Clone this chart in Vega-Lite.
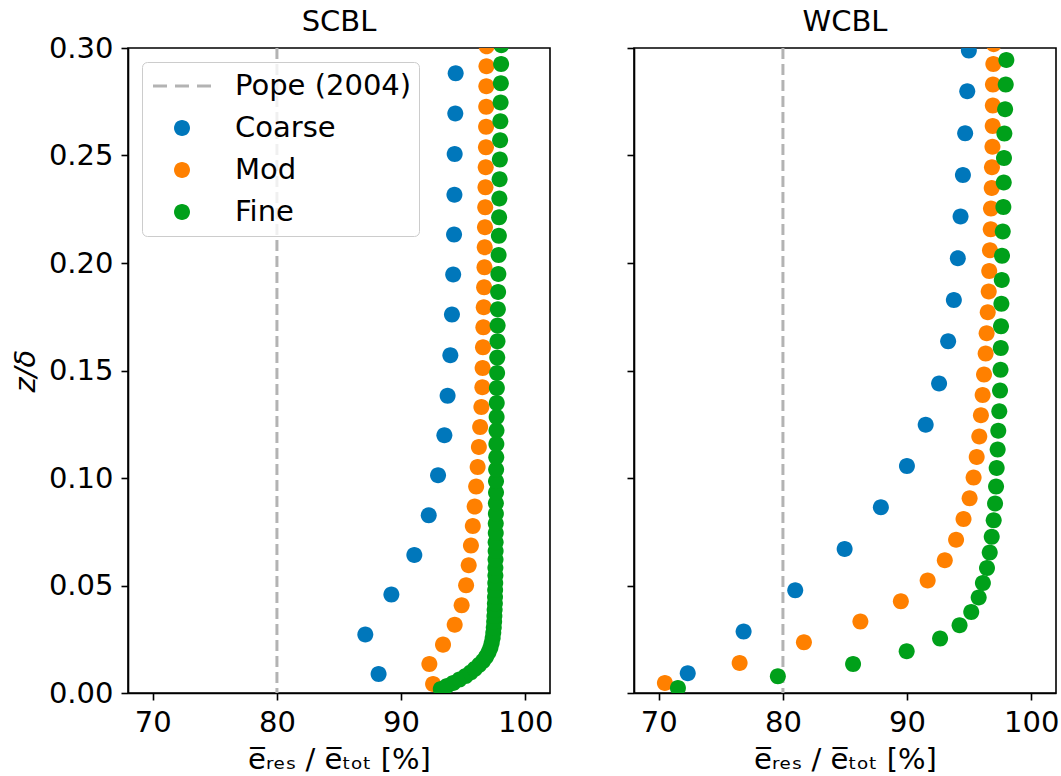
{
  "$schema": "https://vega.github.io/schema/vega-lite/v6.json",
  "padding": {"left": 10, "top": 6, "right": 2, "bottom": 2},
  "background": "white",
  "config": {
    "font": "DejaVu Sans",
    "view": {"stroke": "black", "strokeWidth": 1.6},
    "axis": {"domainColor": "black", "domainWidth": 1.6, "tickColor": "black", "tickWidth": 1.6, "tickSize": 7, "labelFontSize": 29, "labelColor": "black", "titleFontSize": 29, "titleFontWeight": "normal", "titleColor": "black", "grid": false, "labelPadding": 8, "titlePadding": 8},
    "title": {"fontSize": 29, "fontWeight": "normal", "offset": 12, "color": "black"}
  },
  "data": {"values": [
    {"panel": "SCBL", "series": "Pope (2004)", "x": 80},
    {"panel": "WCBL", "series": "Pope (2004)", "x": 80},
    {"panel": "SCBL", "series": "Coarse", "x": 88.19, "y": 0.0088},
    {"panel": "SCBL", "series": "Coarse", "x": 87.12, "y": 0.0272},
    {"panel": "SCBL", "series": "Coarse", "x": 89.22, "y": 0.0458},
    {"panel": "SCBL", "series": "Coarse", "x": 91.07, "y": 0.0642},
    {"panel": "SCBL", "series": "Coarse", "x": 92.23, "y": 0.0827},
    {"panel": "SCBL", "series": "Coarse", "x": 92.98, "y": 0.1013},
    {"panel": "SCBL", "series": "Coarse", "x": 93.49, "y": 0.1199},
    {"panel": "SCBL", "series": "Coarse", "x": 93.75, "y": 0.1383},
    {"panel": "SCBL", "series": "Coarse", "x": 93.97, "y": 0.1571},
    {"panel": "SCBL", "series": "Coarse", "x": 94.10, "y": 0.1760},
    {"panel": "SCBL", "series": "Coarse", "x": 94.20, "y": 0.1946},
    {"panel": "SCBL", "series": "Coarse", "x": 94.27, "y": 0.2132},
    {"panel": "SCBL", "series": "Coarse", "x": 94.30, "y": 0.2318},
    {"panel": "SCBL", "series": "Coarse", "x": 94.32, "y": 0.2507},
    {"panel": "SCBL", "series": "Coarse", "x": 94.37, "y": 0.2695},
    {"panel": "SCBL", "series": "Coarse", "x": 94.40, "y": 0.2882},
    {"panel": "SCBL", "series": "Mod", "x": 92.58, "y": 0.0042},
    {"panel": "SCBL", "series": "Mod", "x": 92.28, "y": 0.0135},
    {"panel": "SCBL", "series": "Mod", "x": 93.38, "y": 0.0225},
    {"panel": "SCBL", "series": "Mod", "x": 94.32, "y": 0.0318},
    {"panel": "SCBL", "series": "Mod", "x": 94.88, "y": 0.0408},
    {"panel": "SCBL", "series": "Mod", "x": 95.24, "y": 0.0501},
    {"panel": "SCBL", "series": "Mod", "x": 95.45, "y": 0.0594},
    {"panel": "SCBL", "series": "Mod", "x": 95.63, "y": 0.0686},
    {"panel": "SCBL", "series": "Mod", "x": 95.78, "y": 0.0777},
    {"panel": "SCBL", "series": "Mod", "x": 95.93, "y": 0.0867},
    {"panel": "SCBL", "series": "Mod", "x": 96.05, "y": 0.0960},
    {"panel": "SCBL", "series": "Mod", "x": 96.17, "y": 0.1051},
    {"panel": "SCBL", "series": "Mod", "x": 96.27, "y": 0.1144},
    {"panel": "SCBL", "series": "Mod", "x": 96.37, "y": 0.1237},
    {"panel": "SCBL", "series": "Mod", "x": 96.47, "y": 0.1330},
    {"panel": "SCBL", "series": "Mod", "x": 96.55, "y": 0.1422},
    {"panel": "SCBL", "series": "Mod", "x": 96.57, "y": 0.1512},
    {"panel": "SCBL", "series": "Mod", "x": 96.60, "y": 0.1608},
    {"panel": "SCBL", "series": "Mod", "x": 96.63, "y": 0.1701},
    {"panel": "SCBL", "series": "Mod", "x": 96.66, "y": 0.1794},
    {"panel": "SCBL", "series": "Mod", "x": 96.69, "y": 0.1887},
    {"panel": "SCBL", "series": "Mod", "x": 96.72, "y": 0.1980},
    {"panel": "SCBL", "series": "Mod", "x": 96.74, "y": 0.2073},
    {"panel": "SCBL", "series": "Mod", "x": 96.76, "y": 0.2166},
    {"panel": "SCBL", "series": "Mod", "x": 96.78, "y": 0.2259},
    {"panel": "SCBL", "series": "Mod", "x": 96.80, "y": 0.2352},
    {"panel": "SCBL", "series": "Mod", "x": 96.82, "y": 0.2445},
    {"panel": "SCBL", "series": "Mod", "x": 96.84, "y": 0.2538},
    {"panel": "SCBL", "series": "Mod", "x": 96.85, "y": 0.2634},
    {"panel": "SCBL", "series": "Mod", "x": 96.86, "y": 0.2727},
    {"panel": "SCBL", "series": "Mod", "x": 96.87, "y": 0.2822},
    {"panel": "SCBL", "series": "Mod", "x": 96.88, "y": 0.2915},
    {"panel": "SCBL", "series": "Mod", "x": 96.89, "y": 0.3008},
    {"panel": "SCBL", "series": "Fine", "x": 93.2, "y": 0.0019},
    {"panel": "SCBL", "series": "Fine", "x": 93.7, "y": 0.0033},
    {"panel": "SCBL", "series": "Fine", "x": 94.2, "y": 0.0047},
    {"panel": "SCBL", "series": "Fine", "x": 94.7, "y": 0.0063},
    {"panel": "SCBL", "series": "Fine", "x": 95.2, "y": 0.0079},
    {"panel": "SCBL", "series": "Fine", "x": 95.6, "y": 0.0095},
    {"panel": "SCBL", "series": "Fine", "x": 95.95, "y": 0.0113},
    {"panel": "SCBL", "series": "Fine", "x": 96.3, "y": 0.0131},
    {"panel": "SCBL", "series": "Fine", "x": 96.6, "y": 0.0149},
    {"panel": "SCBL", "series": "Fine", "x": 96.85, "y": 0.0169},
    {"panel": "SCBL", "series": "Fine", "x": 97.05, "y": 0.0189},
    {"panel": "SCBL", "series": "Fine", "x": 97.2, "y": 0.0211},
    {"panel": "SCBL", "series": "Fine", "x": 97.3, "y": 0.0233},
    {"panel": "SCBL", "series": "Fine", "x": 97.38, "y": 0.0256},
    {"panel": "SCBL", "series": "Fine", "x": 97.43, "y": 0.0280},
    {"panel": "SCBL", "series": "Fine", "x": 97.47, "y": 0.0305},
    {"panel": "SCBL", "series": "Fine", "x": 97.5, "y": 0.0331},
    {"panel": "SCBL", "series": "Fine", "x": 97.52, "y": 0.0358},
    {"panel": "SCBL", "series": "Fine", "x": 97.54, "y": 0.0387},
    {"panel": "SCBL", "series": "Fine", "x": 97.56, "y": 0.0416},
    {"panel": "SCBL", "series": "Fine", "x": 97.57, "y": 0.0447},
    {"panel": "SCBL", "series": "Fine", "x": 97.58, "y": 0.0479},
    {"panel": "SCBL", "series": "Fine", "x": 97.59, "y": 0.0512},
    {"panel": "SCBL", "series": "Fine", "x": 97.6, "y": 0.0547},
    {"panel": "SCBL", "series": "Fine", "x": 97.6, "y": 0.0583},
    {"panel": "SCBL", "series": "Fine", "x": 97.61, "y": 0.0621},
    {"panel": "SCBL", "series": "Fine", "x": 97.62, "y": 0.0660},
    {"panel": "SCBL", "series": "Fine", "x": 97.62, "y": 0.0701},
    {"panel": "SCBL", "series": "Fine", "x": 97.63, "y": 0.0744},
    {"panel": "SCBL", "series": "Fine", "x": 97.63, "y": 0.0788},
    {"panel": "SCBL", "series": "Fine", "x": 97.64, "y": 0.0834},
    {"panel": "SCBL", "series": "Fine", "x": 97.64, "y": 0.0882},
    {"panel": "SCBL", "series": "Fine", "x": 97.65, "y": 0.0933},
    {"panel": "SCBL", "series": "Fine", "x": 97.65, "y": 0.0985},
    {"panel": "SCBL", "series": "Fine", "x": 97.66, "y": 0.1039},
    {"panel": "SCBL", "series": "Fine", "x": 97.67, "y": 0.1096},
    {"panel": "SCBL", "series": "Fine", "x": 97.68, "y": 0.1158},
    {"panel": "SCBL", "series": "Fine", "x": 97.69, "y": 0.1221},
    {"panel": "SCBL", "series": "Fine", "x": 97.7, "y": 0.1284},
    {"panel": "SCBL", "series": "Fine", "x": 97.71, "y": 0.1349},
    {"panel": "SCBL", "series": "Fine", "x": 97.72, "y": 0.1419},
    {"panel": "SCBL", "series": "Fine", "x": 97.74, "y": 0.1488},
    {"panel": "SCBL", "series": "Fine", "x": 97.75, "y": 0.1561},
    {"panel": "SCBL", "series": "Fine", "x": 97.77, "y": 0.1636},
    {"panel": "SCBL", "series": "Fine", "x": 97.78, "y": 0.1709},
    {"panel": "SCBL", "series": "Fine", "x": 97.8, "y": 0.1785},
    {"panel": "SCBL", "series": "Fine", "x": 97.82, "y": 0.1865},
    {"panel": "SCBL", "series": "Fine", "x": 97.84, "y": 0.1949},
    {"panel": "SCBL", "series": "Fine", "x": 97.86, "y": 0.2037},
    {"panel": "SCBL", "series": "Fine", "x": 97.88, "y": 0.2127},
    {"panel": "SCBL", "series": "Fine", "x": 97.9, "y": 0.2213},
    {"panel": "SCBL", "series": "Fine", "x": 97.92, "y": 0.2300},
    {"panel": "SCBL", "series": "Fine", "x": 97.94, "y": 0.2389},
    {"panel": "SCBL", "series": "Fine", "x": 97.96, "y": 0.2481},
    {"panel": "SCBL", "series": "Fine", "x": 97.98, "y": 0.2571},
    {"panel": "SCBL", "series": "Fine", "x": 98.0, "y": 0.2659},
    {"panel": "SCBL", "series": "Fine", "x": 98.02, "y": 0.2747},
    {"panel": "SCBL", "series": "Fine", "x": 98.04, "y": 0.2836},
    {"panel": "SCBL", "series": "Fine", "x": 98.06, "y": 0.2926},
    {"panel": "SCBL", "series": "Fine", "x": 98.08, "y": 0.3013},
    {"panel": "WCBL", "series": "Coarse", "x": 72.33, "y": 0.0092},
    {"panel": "WCBL", "series": "Coarse", "x": 76.83, "y": 0.0286},
    {"panel": "WCBL", "series": "Coarse", "x": 80.99, "y": 0.0478},
    {"panel": "WCBL", "series": "Coarse", "x": 84.97, "y": 0.0670},
    {"panel": "WCBL", "series": "Coarse", "x": 87.89, "y": 0.0864},
    {"panel": "WCBL", "series": "Coarse", "x": 89.99, "y": 0.1056},
    {"panel": "WCBL", "series": "Coarse", "x": 91.50, "y": 0.1248},
    {"panel": "WCBL", "series": "Coarse", "x": 92.58, "y": 0.1440},
    {"panel": "WCBL", "series": "Coarse", "x": 93.31, "y": 0.1636},
    {"panel": "WCBL", "series": "Coarse", "x": 93.77, "y": 0.1828},
    {"panel": "WCBL", "series": "Coarse", "x": 94.09, "y": 0.2022},
    {"panel": "WCBL", "series": "Coarse", "x": 94.31, "y": 0.2216},
    {"panel": "WCBL", "series": "Coarse", "x": 94.50, "y": 0.2409},
    {"panel": "WCBL", "series": "Coarse", "x": 94.68, "y": 0.2603},
    {"panel": "WCBL", "series": "Coarse", "x": 94.85, "y": 0.2799},
    {"panel": "WCBL", "series": "Coarse", "x": 94.98, "y": 0.2988},
    {"panel": "WCBL", "series": "Mod", "x": 70.49, "y": 0.0047},
    {"panel": "WCBL", "series": "Mod", "x": 76.51, "y": 0.0140},
    {"panel": "WCBL", "series": "Mod", "x": 81.69, "y": 0.0236},
    {"panel": "WCBL", "series": "Mod", "x": 86.24, "y": 0.0332},
    {"panel": "WCBL", "series": "Mod", "x": 89.50, "y": 0.0427},
    {"panel": "WCBL", "series": "Mod", "x": 91.66, "y": 0.0523},
    {"panel": "WCBL", "series": "Mod", "x": 93.04, "y": 0.0617},
    {"panel": "WCBL", "series": "Mod", "x": 93.95, "y": 0.0713},
    {"panel": "WCBL", "series": "Mod", "x": 94.55, "y": 0.0809},
    {"panel": "WCBL", "series": "Mod", "x": 95.04, "y": 0.0906},
    {"panel": "WCBL", "series": "Mod", "x": 95.36, "y": 0.1002},
    {"panel": "WCBL", "series": "Mod", "x": 95.61, "y": 0.1098},
    {"panel": "WCBL", "series": "Mod", "x": 95.82, "y": 0.1193},
    {"panel": "WCBL", "series": "Mod", "x": 95.95, "y": 0.1292},
    {"panel": "WCBL", "series": "Mod", "x": 96.09, "y": 0.1386},
    {"panel": "WCBL", "series": "Mod", "x": 96.20, "y": 0.1481},
    {"panel": "WCBL", "series": "Mod", "x": 96.33, "y": 0.1579},
    {"panel": "WCBL", "series": "Mod", "x": 96.41, "y": 0.1673},
    {"panel": "WCBL", "series": "Mod", "x": 96.50, "y": 0.1771},
    {"panel": "WCBL", "series": "Mod", "x": 96.58, "y": 0.1867},
    {"panel": "WCBL", "series": "Mod", "x": 96.62, "y": 0.1963},
    {"panel": "WCBL", "series": "Mod", "x": 96.68, "y": 0.2059},
    {"panel": "WCBL", "series": "Mod", "x": 96.74, "y": 0.2157},
    {"panel": "WCBL", "series": "Mod", "x": 96.76, "y": 0.2253},
    {"panel": "WCBL", "series": "Mod", "x": 96.82, "y": 0.2349},
    {"panel": "WCBL", "series": "Mod", "x": 96.84, "y": 0.2445},
    {"panel": "WCBL", "series": "Mod", "x": 96.88, "y": 0.2541},
    {"panel": "WCBL", "series": "Mod", "x": 96.90, "y": 0.2637},
    {"panel": "WCBL", "series": "Mod", "x": 96.91, "y": 0.2733},
    {"panel": "WCBL", "series": "Mod", "x": 96.92, "y": 0.2830},
    {"panel": "WCBL", "series": "Mod", "x": 96.95, "y": 0.2926},
    {"panel": "WCBL", "series": "Mod", "x": 96.98, "y": 0.3018},
    {"panel": "WCBL", "series": "Fine", "x": 71.54, "y": 0.0023},
    {"panel": "WCBL", "series": "Fine", "x": 79.59, "y": 0.0078},
    {"panel": "WCBL", "series": "Fine", "x": 85.65, "y": 0.0135},
    {"panel": "WCBL", "series": "Fine", "x": 89.97, "y": 0.0194},
    {"panel": "WCBL", "series": "Fine", "x": 92.66, "y": 0.0253},
    {"panel": "WCBL", "series": "Fine", "x": 94.23, "y": 0.0315},
    {"panel": "WCBL", "series": "Fine", "x": 95.17, "y": 0.0377},
    {"panel": "WCBL", "series": "Fine", "x": 95.77, "y": 0.0444},
    {"panel": "WCBL", "series": "Fine", "x": 96.11, "y": 0.0512},
    {"panel": "WCBL", "series": "Fine", "x": 96.44, "y": 0.0581},
    {"panel": "WCBL", "series": "Fine", "x": 96.66, "y": 0.0653},
    {"panel": "WCBL", "series": "Fine", "x": 96.82, "y": 0.0727},
    {"panel": "WCBL", "series": "Fine", "x": 96.98, "y": 0.0803},
    {"panel": "WCBL", "series": "Fine", "x": 97.09, "y": 0.0881},
    {"panel": "WCBL", "series": "Fine", "x": 97.17, "y": 0.0961},
    {"panel": "WCBL", "series": "Fine", "x": 97.22, "y": 0.1047},
    {"panel": "WCBL", "series": "Fine", "x": 97.30, "y": 0.1132},
    {"panel": "WCBL", "series": "Fine", "x": 97.35, "y": 0.1220},
    {"panel": "WCBL", "series": "Fine", "x": 97.43, "y": 0.1310},
    {"panel": "WCBL", "series": "Fine", "x": 97.49, "y": 0.1407},
    {"panel": "WCBL", "series": "Fine", "x": 97.53, "y": 0.1504},
    {"panel": "WCBL", "series": "Fine", "x": 97.55, "y": 0.1605},
    {"panel": "WCBL", "series": "Fine", "x": 97.57, "y": 0.1706},
    {"panel": "WCBL", "series": "Fine", "x": 97.60, "y": 0.1811},
    {"panel": "WCBL", "series": "Fine", "x": 97.63, "y": 0.1921},
    {"panel": "WCBL", "series": "Fine", "x": 97.65, "y": 0.2034},
    {"panel": "WCBL", "series": "Fine", "x": 97.71, "y": 0.2147},
    {"panel": "WCBL", "series": "Fine", "x": 97.76, "y": 0.2260},
    {"panel": "WCBL", "series": "Fine", "x": 97.79, "y": 0.2374},
    {"panel": "WCBL", "series": "Fine", "x": 97.81, "y": 0.2488},
    {"panel": "WCBL", "series": "Fine", "x": 97.84, "y": 0.2602},
    {"panel": "WCBL", "series": "Fine", "x": 97.90, "y": 0.2715},
    {"panel": "WCBL", "series": "Fine", "x": 97.95, "y": 0.2830},
    {"panel": "WCBL", "series": "Fine", "x": 98.00, "y": 0.2944}
  ]},
  "spacing": 71,
  "resolve": {"legend": {"color": "independent", "shape": "independent"}},
  "hconcat": [
    {
      "width": 422,
      "height": 645,
      "title": {"text": "SCBL", "offset": -3},
      "layer": [
        {
          "transform": [{"filter": "datum.panel === 'SCBL' && datum.series === 'Pope (2004)'"}],
          "mark": {"type": "rule", "color": "#b3b3b3", "strokeWidth": 3, "strokeDash": [11, 5]},
          "encoding": {
            "x": {"field": "x", "type": "quantitative", "scale": {"domain": [68, 102], "nice": false, "zero": false}, "axis": {"values": [70, 80, 90, 100], "title": "e̅ᵣₑₛ / e̅ₜₒₜ [%]"}}
          }
        },
        {
          "transform": [{"filter": "datum.panel === 'SCBL' && datum.series !== 'Pope (2004)'"}],
          "mark": {"type": "point", "filled": true, "opacity": 1, "size": 3364, "clip": true, "strokeWidth": 0},
          "encoding": {
            "x": {"field": "x", "type": "quantitative", "scale": {"domain": [68, 102], "nice": false, "zero": false}, "axis": {"values": [70, 80, 90, 100], "title": "e̅ᵣₑₛ / e̅ₜₒₜ [%]"}},
            "y": {"field": "y", "type": "quantitative", "scale": {"domain": [0, 0.3], "nice": false, "zero": false}, "axis": {"values": [0, 0.05, 0.1, 0.15, 0.2, 0.25, 0.3], "format": ".2f", "title": "z/δ", "titleFontStyle": "italic"}},
            "color": {"field": "series", "type": "nominal",
              "scale": {"domain": ["Pope (2004)", "Coarse", "Mod", "Fine"], "range": ["#b3b3b3", "#0077bb", "#ff8000", "#00a01a"]},
              "legend": {"title": null, "orient": "top-left", "offset": 14, "padding": 7, "fillColor": "rgba(255,255,255,0.8)", "strokeColor": "#cccccc", "cornerRadius": 5, "symbolSize": 3364, "symbolStrokeWidth": 0, "symbolOffset": 4, "labelOffset": 24, "labelFontSize": 29, "labelLimit": 400, "labelColor": "black", "clipHeight": 34, "rowPadding": 8, "symbolOpacity": 1}},
            "shape": {"field": "series", "type": "nominal",
              "scale": {"domain": ["Pope (2004)", "Coarse", "Mod", "Fine"], "range": [
                "M-1,-0.055H-0.517V0.055H-1Z M-0.241,-0.055H0.241V0.055H-0.241Z M0.517,-0.055H1V0.055H0.517Z",
                "M0.276,0A0.276,0.276,0,1,1,-0.276,0A0.276,0.276,0,1,1,0.276,0Z",
                "M0.276,0A0.276,0.276,0,1,1,-0.276,0A0.276,0.276,0,1,1,0.276,0Z",
                "M0.276,0A0.276,0.276,0,1,1,-0.276,0A0.276,0.276,0,1,1,0.276,0Z"]},
              "legend": {"title": null, "orient": "top-left", "offset": 14, "padding": 7, "fillColor": "rgba(255,255,255,0.8)", "strokeColor": "#cccccc", "cornerRadius": 5, "symbolSize": 3364, "symbolStrokeWidth": 0, "symbolOffset": 4, "labelOffset": 24, "labelFontSize": 29, "labelLimit": 400, "labelColor": "black", "clipHeight": 34, "rowPadding": 8, "symbolOpacity": 1}}
          }
        }
      ]
    },
    {
      "width": 422,
      "height": 645,
      "title": {"text": "WCBL", "offset": 10},
      "layer": [
        {
          "transform": [{"filter": "datum.panel === 'WCBL' && datum.series === 'Pope (2004)'"}],
          "mark": {"type": "rule", "color": "#b3b3b3", "strokeWidth": 3, "strokeDash": [11, 5]},
          "encoding": {
            "x": {"field": "x", "type": "quantitative", "scale": {"domain": [68, 102], "nice": false, "zero": false}, "axis": {"values": [70, 80, 90, 100], "title": "e̅ᵣₑₛ / e̅ₜₒₜ [%]"}}
          }
        },
        {
          "transform": [{"filter": "datum.panel === 'WCBL' && datum.series !== 'Pope (2004)'"}],
          "mark": {"type": "point", "filled": true, "opacity": 1, "size": 3364, "clip": true, "strokeWidth": 0},
          "encoding": {
            "x": {"field": "x", "type": "quantitative", "scale": {"domain": [68, 102], "nice": false, "zero": false}, "axis": {"values": [70, 80, 90, 100], "title": "e̅ᵣₑₛ / e̅ₜₒₜ [%]"}},
            "y": {"field": "y", "type": "quantitative", "scale": {"domain": [0, 0.3], "nice": false, "zero": false}, "axis": {"values": [0, 0.05, 0.1, 0.15, 0.2, 0.25, 0.3], "labels": false, "title": null}},
            "color": {"field": "series", "type": "nominal",
              "scale": {"domain": ["Pope (2004)", "Coarse", "Mod", "Fine"], "range": ["#b3b3b3", "#0077bb", "#ff8000", "#00a01a"]},
              "legend": null},
            "shape": {"field": "series", "type": "nominal",
              "scale": {"domain": ["Pope (2004)", "Coarse", "Mod", "Fine"], "range": [
                "M-1,-0.055H-0.517V0.055H-1Z M-0.241,-0.055H0.241V0.055H-0.241Z M0.517,-0.055H1V0.055H0.517Z",
                "M0.276,0A0.276,0.276,0,1,1,-0.276,0A0.276,0.276,0,1,1,0.276,0Z",
                "M0.276,0A0.276,0.276,0,1,1,-0.276,0A0.276,0.276,0,1,1,0.276,0Z",
                "M0.276,0A0.276,0.276,0,1,1,-0.276,0A0.276,0.276,0,1,1,0.276,0Z"]},
              "legend": null}
          }
        }
      ]
    }
  ]
}
